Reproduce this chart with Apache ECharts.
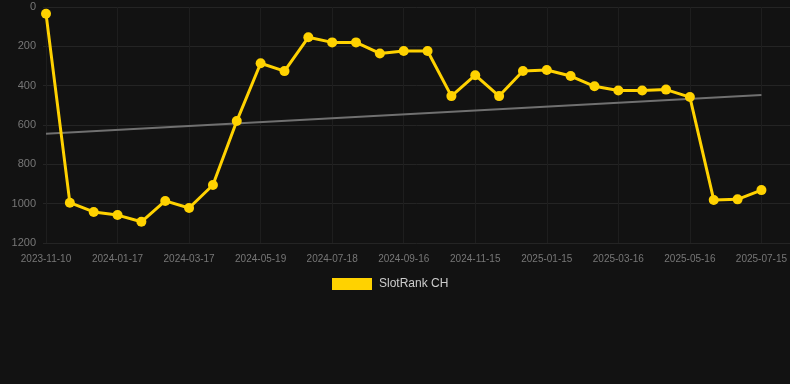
<!DOCTYPE html>
<html>
<head>
<meta charset="utf-8">
<script src="https://cdn.jsdelivr.net/npm/echarts@6/dist/echarts.min.js"></script>
<style>
  html, body { margin: 0; padding: 0; background: #121212; }
  #chart { width: 790px; height: 384px; }
</style>
</head>
<body>
<div id="chart"></div>
<script>
// 日期（每第三个显示）
const dates = [
    '2023-11-10', '2023-12-03', '2023-12-25', '2024-01-17', '2024-02-06', '2024-02-26',
    '2024-03-17', '2024-04-07', '2024-04-28', '2024-05-19', '2024-06-08', '2024-06-28',
    '2024-07-18', '2024-08-07', '2024-08-27', '2024-09-16', '2024-10-06', '2024-10-26',
    '2024-11-15', '2024-12-05', '2024-12-26', '2025-01-15', '2025-02-04', '2025-02-24',
    '2025-03-16', '2025-04-05', '2025-04-26', '2025-05-16', '2025-06-05', '2025-06-25',
    '2025-07-15'
];

// 排名
const rankValues = [
    34, 995, 1042, 1058, 1092, 986, 1022, 905, 580, 286, 326,
    154, 180, 180, 236, 224, 224, 453, 347, 453, 325,
    320, 351, 403, 425, 425, 420, 458, 981, 978, 931
];

// 趋势线两端
const trendDates = ['2023-11-10', '2025-07-15'];
const trendValues = [644, 447];

const yTicks = { min: 0, max: 1200, interval: 200 };

const labelFont = 'Liberation Sans, Arial, sans-serif';

function renderChart() {
    const chart = echarts.init(document.getElementById('chart'));

    const option = {
        backgroundColor: '#121212',
        animation: false,
        legend: {
            data: ['SlotRank CH'],
            left: 332,
            top: 278,
            padding: 0,
            icon: 'rect',
            itemWidth: 40,
            itemHeight: 12,
            itemGap: 10,
            textStyle: { color: '#cccccc', fontSize: 12, fontFamily: labelFont, padding: [0, 0, 0, 2] }
        },
        grid: [
            { left: 43, right: 0, top: 7, bottom: 141 },
            { left: 46, right: 28, top: 7, bottom: 141 }
        ],
        xAxis: [
            {
                gridIndex: 0,
                type: 'value',
                min: 0,
                max: 1,
                show: false
            },
            {
                gridIndex: 1,
                type: 'category',
                data: dates,
                boundaryGap: false,
                axisLine: { show: false },
                axisTick: { show: false },
                axisLabel: {
                    interval: 2,
                    color: '#777777',
                    fontSize: 10,
                    fontFamily: labelFont,
                    margin: 11
                },
                splitLine: {
                    show: true,
                    interval: 2,
                    lineStyle: { color: '#1e1e1e', width: 1 }
                }
            }
        ],
        yAxis: [
            {
                gridIndex: 0,
                type: 'value',
                inverse: true,
                min: yTicks.min,
                max: yTicks.max,
                interval: yTicks.interval,
                axisLine: { show: false },
                axisTick: { show: false },
                axisLabel: {
                    color: '#777777',
                    fontSize: 11,
                    fontFamily: labelFont,
                    margin: 7,
                    formatter: v => String(v)
                },
                splitLine: { lineStyle: { color: '#242424', width: 1 } }
            },
            {
                gridIndex: 1,
                type: 'value',
                inverse: true,
                min: yTicks.min,
                max: yTicks.max,
                interval: yTicks.interval,
                show: false,
                splitLine: { show: false }
            }
        ],
        series: [
            {
                name: '趋势',
                type: 'line',
                xAxisIndex: 1,
                yAxisIndex: 1,
                data: trendDates.map((d, i) => [d, trendValues[i]]),
                symbol: 'none',
                silent: true,
                lineStyle: { color: '#707070', width: 2 },
                z: 1
            },
            {
                name: 'SlotRank CH',
                type: 'line',
                xAxisIndex: 1,
                yAxisIndex: 1,
                data: rankValues,
                symbol: 'circle',
                symbolSize: 10,
                color: '#ffd200',
                lineStyle: { color: '#ffd200', width: 3 },
                itemStyle: { color: '#ffd200' },
                z: 3
            }
        ]
    };

    chart.setOption(option);
}

renderChart();
</script>
</body>
</html>
